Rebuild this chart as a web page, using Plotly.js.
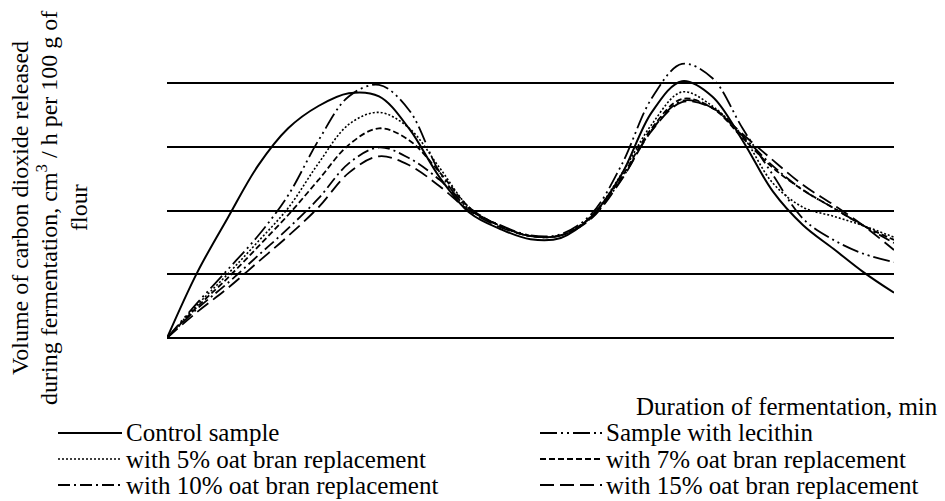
<!DOCTYPE html>
<html>
<head>
<meta charset="utf-8">
<script src="https://cdn.plot.ly/plotly-3.0.1.min.js"></script>
<style>html,body{margin:0;padding:0;background:#fff;}#chart{width:945px;height:501px;}</style>
</head>
<body>
<div id="chart"></div>
<script>
// Duration of fermentation, min (no tick labels in the source; arbitrary scale)
const minutes = [0,10,20,30,40,50,60,70,80,90,100,110,120,130,140,150,160,170,180,190,200,210,220,230,240];

const seriesNames = [
  "Control sample",
  "Sample with lecithin",
  "with 5% oat bran replacement",
  "with 7% oat bran replacement",
  "with 10% oat bran replacement",
  "with 15% oat bran replacement"
];

const control  = [0,10.3,18.8,27.0,32.9,36.4,38.4,37.9,32.8,25.2,19.6,17.1,15.5,15.7,19.0,25.6,35.4,40.3,37.9,31.0,23.0,17.7,14.0,10.3,7.1];
const lecithin = [0,5.5,10.7,16.0,22.4,31.0,37.9,39.7,35.7,26.0,20.1,17.7,16.1,16.3,19.4,27.1,37.6,43.0,40.8,32.9,25.6,18.7,15.4,13.2,11.9];
const oat5     = [0,5.2,10.0,15.1,20.4,27.4,33.5,35.4,32.9,26.7,20.4,17.6,16.0,16.1,19.1,25.7,33.5,38.6,36.4,31.7,24.3,20.5,19.1,17.6,15.8];
const oat7     = [0,4.9,9.4,14.3,19.3,24.8,30.3,32.9,31.0,26.0,20.4,17.6,16.0,16.1,19.0,25.2,32.9,37.5,36.1,31.4,26.7,23.2,20.4,17.6,15.4];
const oat10    = [0,4.6,8.6,12.9,17.2,21.9,27.4,29.9,28.2,24.8,20.2,17.6,16.0,16.1,18.8,24.9,32.6,37.2,36.1,31.7,27.0,23.2,20.4,17.6,14.9];
const oat15    = [0,4.1,7.8,11.9,16.0,20.5,25.9,28.5,27.1,23.8,19.9,17.4,16.0,16.1,18.7,24.8,32.5,37.0,36.1,32.0,27.9,24.0,20.9,17.6,13.8];

const values = [control, lecithin, oat5, oat7, oat10, oat15];

const yTitleLines = ["Volume of carbon dioxide released", "during fermentation, cm<sup>3</sup> / h per 100 g of", "flour"];
const xTitle = "Duration of fermentation, min";

// styles
const dashes = ["solid", "17px,4px,2px,4px,2px,4px", "2px,2px", "6px,3px", "12px,4px,2px,4px", "14px,6px"];
const widths = [2, 1.8, 1.6, 1.8, 1.8, 1.8];
const FONT = "Liberation Serif, Times New Roman, serif";
const FS = 25;

// pixel -> paper helpers (plot area: x 167..894, y 19..338)
const L = 167, R = 894, T = 19, B = 338;
const px = v => (v - L) / (R - L);
const py = v => (B - v) / (B - T);

const traces = values.map((v, i) => ({
  x: minutes,
  y: v,
  name: seriesNames[i],
  type: "scatter",
  mode: "lines",
  line: {color: "#000", width: widths[i], dash: dashes[i], shape: "spline", smoothing: 1},
  hoverinfo: "skip",
  showlegend: false
}));

// hand-placed two-column key, as in the source
const keyCols = [{x0: 58, x1: 122, tx: 124}, {x0: 540, x1: 602, tx: 604}];
const keyRows = [433, 459, 485];
const shapes = [];
const annotations = [];
seriesNames.forEach((name, i) => {
  const c = keyCols[i % 2], r = keyRows[Math.floor(i / 2)];
  shapes.push({type: "line", xref: "paper", yref: "paper",
    x0: px(c.x0), x1: px(c.x1), y0: py(r), y1: py(r),
    line: {color: "#000", width: widths[i], dash: dashes[i]}});
  annotations.push({text: name, xref: "paper", yref: "paper",
    x: px(c.tx), y: py(r), xanchor: "left", yanchor: "middle", showarrow: false,
    font: {family: FONT, size: FS, color: "#000"}});
});

annotations.push({text: xTitle, xref: "paper", yref: "paper",
  x: px(940), y: py(407), xanchor: "right", yanchor: "middle", showarrow: false,
  font: {family: FONT, size: FS, color: "#000"}});

const yTitleX = [20, 47, 79];
yTitleLines.forEach((t, i) => {
  annotations.push({text: t, xref: "paper", yref: "paper",
    x: px(yTitleX[i]), y: py(208), xanchor: "center", yanchor: "middle",
    textangle: -90, showarrow: false,
    font: {family: FONT, size: 24, color: "#000"}});
});

const layout = {
  width: 945,
  height: 501,
  margin: {l: L, r: 945 - R, t: T, b: 501 - B},
  paper_bgcolor: "#fff",
  plot_bgcolor: "#fff",
  font: {family: FONT, size: FS, color: "#000"},
  showlegend: false,
  xaxis: {
    range: [0, 240],
    showgrid: false, zeroline: false, showline: false,
    showticklabels: false, ticks: ""
  },
  yaxis: {
    range: [0, 50.05],
    dtick: 10, tick0: 0,
    showgrid: true, gridcolor: "#000", gridwidth: 2,
    zeroline: true, zerolinecolor: "#000", zerolinewidth: 2,
    showline: false, showticklabels: false, ticks: ""
  },
  shapes: shapes,
  annotations: annotations
};

Plotly.newPlot("chart", traces, layout, {staticPlot: true, displayModeBar: false});
</script>
</body>
</html>
